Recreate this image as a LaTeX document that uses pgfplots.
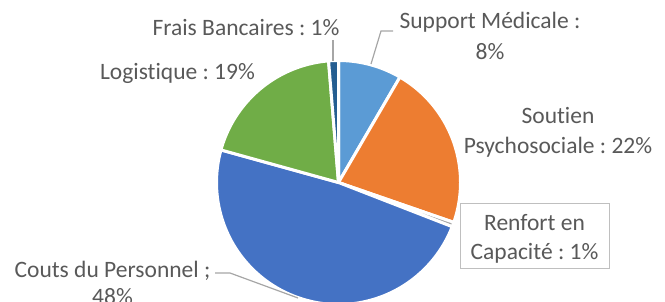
\documentclass[border=0pt]{standalone}
\usepackage{fontspec}
\setmainfont{Carlito}[Ligatures=NoCommon]
\usepackage{pgfplots}
\pgfplotsset{compat=1.18}
\frenchspacing
\definecolor{cSupport}{HTML}{5B9BD5}
\definecolor{cSoutien}{HTML}{ED7D31}
\definecolor{cRenfort}{HTML}{A5A5A5}
\definecolor{cCouts}{HTML}{4472C4}
\definecolor{cLogist}{HTML}{70AD47}
\definecolor{cFrais}{HTML}{255E91}
\definecolor{txt}{HTML}{595959}
\definecolor{lead}{HTML}{A6A6A6}
\definecolor{boxc}{HTML}{BFBFBF}
\newcommand\lbl{\fontsize{23.5bp}{29bp}\selectfont}
% slice: start (percent), value (percent), colour
\newcommand\slice[3]{%
  \pgfmathsetmacro\sa{#1*3.6}%
  \pgfmathsetmacro\sb{(#1+#2)*3.6}%
  \addplot[fill=#3, draw=white, line width=3bp, line join=round, domain=\sa:\sb, samples=80, variable=\t]
    ({338.5+122*sin(\t)}, {182.5-122*cos(\t)}) -- (axis cs:338.5,182.5) -- cycle;
}
\begin{document}
\begin{tikzpicture}
\begin{axis}[width=665bp,height=302bp,scale only axis,
  xmin=0,xmax=665,ymin=0,ymax=302,y dir=reverse,hide axis,clip=true]
% values in percent: Support 8.4, Soutien 21.9, Renfort 0.6, Couts 48.4, Logistique 19.4, Frais 1.3
\slice{0}{8.4}{cSupport}
\slice{8.4}{21.9}{cSoutien}
\slice{30.3}{0.6}{cRenfort}
\slice{30.9}{48.4}{cCouts}
\slice{79.3}{19.4}{cLogist}
\slice{98.7}{1.3}{cFrais}
% leader lines
\addplot[lead, line width=1.2bp, mark=none] coordinates {(333,40) (333,61)};
\addplot[lead, line width=1.2bp, mark=none] coordinates {(371,64) (381,31) (393,31)};
\addplot[lead, line width=1.2bp, mark=none] coordinates {(215,273) (230,273) (298,298)};
% box
\draw[boxc, line width=1bp, fill=white] (axis cs:460,203) rectangle (axis cs:609,268);
% labels
\node[anchor=base, text=txt, font=\lbl] at (axis cs:246,35) {Frais Bancaires : 1\%};
\node[anchor=base, text=txt, font=\lbl] at (axis cs:177.5,79) {Logistique : 19\%};
\node[anchor=base, text=txt, font=\lbl] at (axis cs:490,29) {Support Médicale :};
\node[anchor=base, text=txt, font=\lbl] at (axis cs:490,59) {8\%};
\node[anchor=base, text=txt, font=\lbl] at (axis cs:558,123) {Soutien};
\node[anchor=base, text=txt, font=\lbl] at (axis cs:558,153) {Psychosociale : 22\%};
\node[anchor=base, text=txt, font=\lbl] at (axis cs:534.5,230) {Renfort en};
\node[anchor=base, text=txt, font=\lbl] at (axis cs:534.5,259) {Capacité : 1\%};
\node[anchor=base, text=txt, font=\lbl] at (axis cs:112.5,277) {Couts du Personnel ;};
\node[anchor=base, text=txt, font=\lbl] at (axis cs:112.5,304) {48\%};
\end{axis}
\pgfresetboundingbox
\path (current axis.south west) rectangle (current axis.north east);
\end{tikzpicture}
\end{document}
